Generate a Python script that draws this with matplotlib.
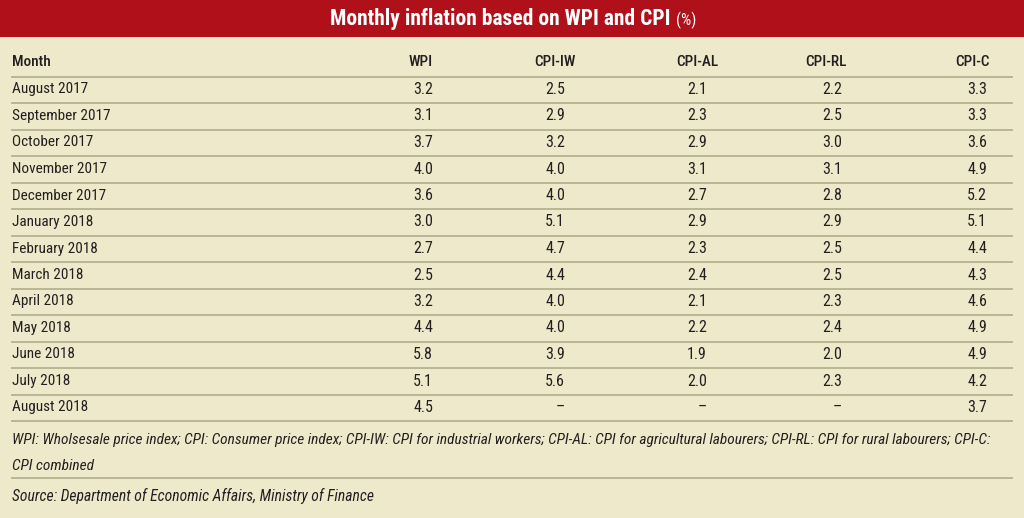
import matplotlib
matplotlib.use("Agg")
import matplotlib.pyplot as plt
from matplotlib import font_manager

available = {f.name for f in font_manager.fontManager.ttflist}
prefs = ['Roboto Condensed', 'Liberation Sans Narrow', 'Open Sans Condensed',
         'DejaVu Sans Condensed', 'Liberation Sans']
chosen = [p for p in prefs if p in available]
FONT = chosen[0] if chosen else 'DejaVu Sans'
plt.rcParams['font.family'] = [FONT, 'DejaVu Sans']

title = "Monthly inflation based on WPI and CPI"
title_unit = "(%)"
columns = ["Month", "WPI", "CPI-IW", "CPI-AL", "CPI-RL", "CPI-C"]
months = ["August 2017", "September 2017", "October 2017", "November 2017",
          "December 2017", "January 2018", "February 2018", "March 2018",
          "April 2018", "May 2018", "June 2018", "July 2018", "August 2018"]
wpi =    ["3.2", "3.1", "3.7", "4.0", "3.6", "3.0", "2.7", "2.5", "3.2", "4.4", "5.8", "5.1", "4.5"]
cpi_iw = ["2.5", "2.9", "3.2", "4.0", "4.0", "5.1", "4.7", "4.4", "4.0", "4.0", "3.9", "5.6", "–"]
cpi_al = ["2.1", "2.3", "2.9", "3.1", "2.7", "2.9", "2.3", "2.4", "2.1", "2.2", "1.9", "2.0", "–"]
cpi_rl = ["2.2", "2.5", "3.0", "3.1", "2.8", "2.9", "2.5", "2.5", "2.3", "2.4", "2.0", "2.3", "–"]
cpi_c =  ["3.3", "3.3", "3.6", "4.9", "5.2", "5.1", "4.4", "4.3", "4.6", "4.9", "4.9", "4.2", "3.7"]
footnote = ("WPI: Wholsesale price index; CPI: Consumer price index; CPI-IW: CPI for industrial workers; "
            "CPI-AL: CPI for agricultural labourers; CPI-RL: CPI for rural labourers; CPI-C:\nCPI combined")
source = "Source: Department of Economic Affairs, Ministry of Finance"

BG = "#efe9cb"
RED = "#b0101a"
LINE = "#bab595"
TXT = "#231f20"

fig = plt.figure(figsize=(10.24, 5.18), dpi=100)
fig.patch.set_facecolor(BG)
ax = fig.add_axes([0, 0, 1, 1])
ax.set_xlim(0, 1024)
ax.set_ylim(518, 0)
ax.axis('off')

renderer = fig.canvas.get_renderer()
inv = ax.transData.inverted()

def width_px(t):
    bb = t.get_window_extent(renderer=renderer)
    return bb.x1 - bb.x0

def fit(t, target):
    # scale font so that the widest line of the text is about target pixels wide
    w = width_px(t)
    t.set_fontsize(t.get_fontsize() * target / w)

# banner
ax.add_patch(plt.Rectangle((0, 0), 1024, 37, color=RED, lw=0))
t1 = ax.text(0, 18.5, title, color="white", fontsize=15.5, fontweight="bold",
             ha="left", va="center")
t2 = ax.text(0, 20.5, title_unit, color="white", fontsize=11.5, ha="left", va="center")
w1, w2, gap = width_px(t1), width_px(t2), 6
x0 = 513 - (w1 + gap + w2) / 2
t1.set_x(x0)
t2.set_x(x0 + w1 + gap)

head_x = [12, 421, 555, 697, 826, 972]
val_right = [433, 565, 707, 842, 987]
header_y = 62.5
row0 = 89.5
dy = 26.5
fs = 11

for i, c in enumerate(columns):
    ax.text(head_x[i], header_y, c, ha="left" if i == 0 else "center", va="center",
            fontsize=fs, color=TXT, fontweight="medium")
ax.plot([12, 1012], [76.5, 76.5], color=LINE, lw=1.4)

series = [wpi, cpi_iw, cpi_al, cpi_rl, cpi_c]
for r, m in enumerate(months):
    y = row0 + r * dy
    ax.text(head_x[0], y, m, ha="left", va="center", fontsize=fs, color=TXT)
    for j, s in enumerate(series):
        ax.text(val_right[j], y, s[r], ha="right", va="center", fontsize=11.5, color=TXT)
    ax.plot([12, 1012], [y + 13.6, y + 13.6], color=LINE, lw=1.4)

fn = ax.text(12, 453, footnote, ha="left", va="center", fontsize=10.5, color=TXT,
             style="italic", linespacing=2.05)
fit(fn, 983)
ax.plot([12, 1012], [477.5, 477.5], color=LINE, lw=1.4)
src = ax.text(12, 496, source, ha="left", va="center", fontsize=10.5,
              color=TXT, style="italic")
fit(src, 363)

fig.savefig("out.png", dpi=100, facecolor=BG)
